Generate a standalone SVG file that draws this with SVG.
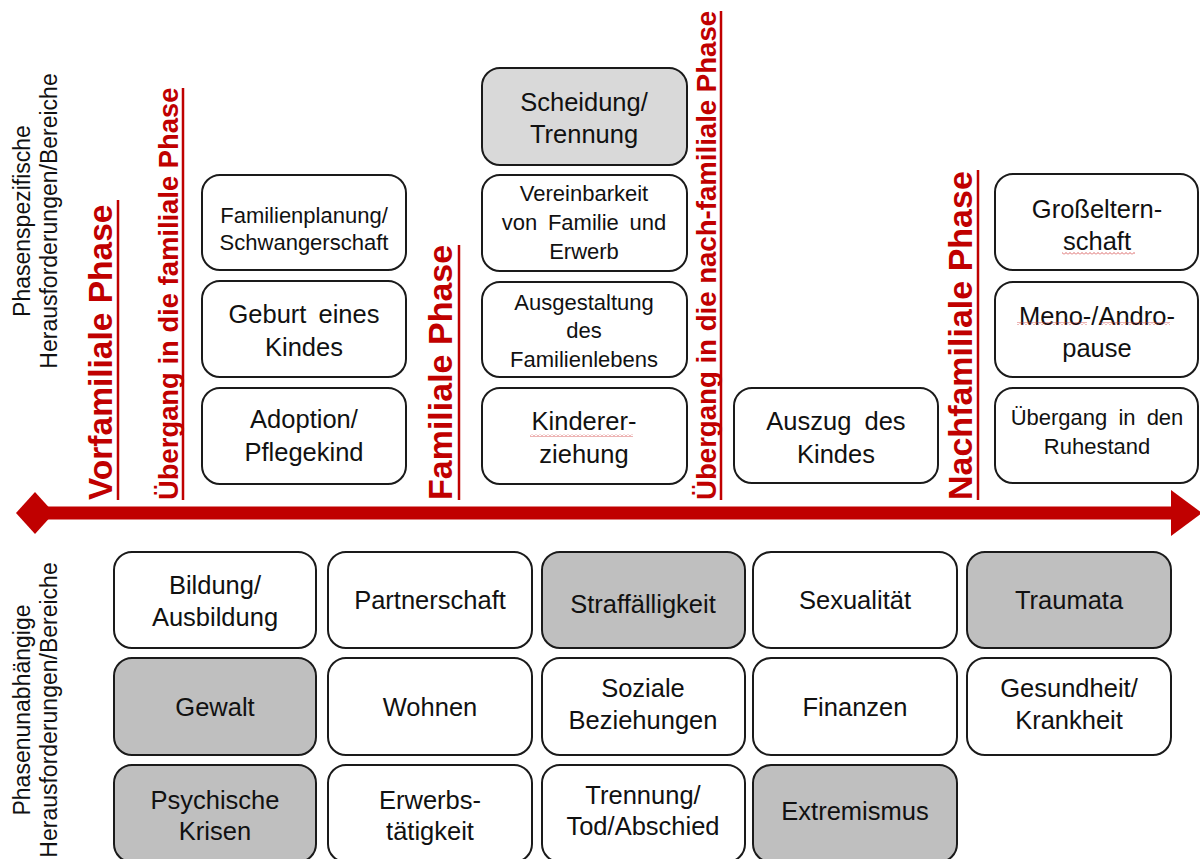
<svg xmlns="http://www.w3.org/2000/svg" width="1200" height="859" viewBox="0 0 1200 859">
<style>
  .box { fill: #ffffff; stroke: #1a1a1a; stroke-width: 2; }
  .grey { fill: #bfbfbf; }
  .lgrey { fill: #d9d9d9; }
  .t { font-family: "Liberation Sans", Arial, sans-serif; fill: #111111; text-anchor: middle; }
  .big { font-size: 25.5px; }
  .small { font-size: 22px; }
  .side { font-family: "Liberation Sans", Arial, sans-serif; fill: #111111; font-size: 23px; text-anchor: middle; }
  .phase { font-family: "Liberation Sans", Arial, sans-serif; fill: #c00000; font-weight: bold; }
  .ul { stroke: #c00000; stroke-width: 2.5; }
  .axis { stroke: #c00000; stroke-width: 13; fill: none; }
</style>
<defs>
  <marker id="arrowhead" markerUnits="userSpaceOnUse" markerWidth="31" markerHeight="46" refX="0" refY="23" orient="auto">
    <path d="M0,0 L31,23 L0,46 Z" fill="#c00000"/>
  </marker>
  <marker id="diamond" markerUnits="userSpaceOnUse" markerWidth="38" markerHeight="42" refX="19" refY="21" orient="auto">
    <path d="M0,21 L19,0 L38,21 L19,42 Z" fill="#c00000"/>
  </marker>
  <pattern id="squig" patternUnits="userSpaceOnUse" width="4" height="3">
    <path d="M0,2.5 L2,0.5 L4,2.5" fill="none" stroke="#d04040" stroke-width="0.8"/>
  </pattern>
</defs>
<rect width="1200" height="859" fill="#ffffff"/>

<!-- side labels -->
<g id="label-phasenspezifisch">
  <text class="side" transform="translate(30,221) rotate(-90)">Phasenspezifische</text>
  <text class="side" transform="translate(57,221) rotate(-90)">Herausforderungen/Bereiche</text>
</g>
<g id="label-phasenunabhaengig">
  <text class="side" transform="translate(30,710) rotate(-90)">Phasenunabhängige</text>
  <text class="side" transform="translate(57,710) rotate(-90)">Herausforderungen/Bereiche</text>
</g>

<!-- connectors: timeline axis -->
<g id="connectors">
  <line class="axis" x1="35" y1="513" x2="1171" y2="513" marker-start="url(#diamond)" marker-end="url(#arrowhead)"/>
</g>

<!-- phase labels -->
<g id="phase-vorfamiliale">
  <text class="phase" font-size="33.5" transform="translate(112,500) rotate(-90)">Vorfamiliale Phase</text>
  <line class="ul" x1="118" y1="500" x2="118" y2="200"/>
</g>
<g id="phase-uebergang-familiale">
  <text class="phase" font-size="27.4" transform="translate(178,500) rotate(-90)">Übergang in die familiale Phase</text>
  <line class="ul" x1="183" y1="500" x2="183" y2="88"/>
</g>
<g id="phase-familiale">
  <text class="phase" font-size="34" transform="translate(452,500) rotate(-90)">Familiale Phase</text>
  <line class="ul" x1="459" y1="500" x2="459" y2="245"/>
</g>
<g id="phase-uebergang-nachfamiliale">
  <text class="phase" font-size="27.6" transform="translate(716,500) rotate(-90)">Übergang in die nach-familiale Phase</text>
  <line class="ul" x1="721" y1="500" x2="721" y2="11"/>
</g>
<g id="phase-nachfamiliale">
  <text class="phase" font-size="34" transform="translate(972,500) rotate(-90)">Nachfamiliale Phase</text>
  <line class="ul" x1="978" y1="500" x2="978" y2="170"/>
</g>

<!-- top: phase specific boxes -->
<g id="familienplanung">
  <rect class="box" x="202" y="175" width="204" height="95" rx="18"/>
  <text class="t small" x="304" y="223">Familienplanung/</text>
  <text class="t small" x="304" y="250">Schwangerschaft</text>
</g>
<g id="geburt">
  <rect class="box" x="202" y="281" width="204" height="96" rx="18"/>
  <text class="t big" x="304" y="323" word-spacing="5">Geburt eines</text>
  <text class="t big" x="304" y="356">Kindes</text>
</g>
<g id="adoption">
  <rect class="box" x="202" y="388" width="204" height="96" rx="18"/>
  <text class="t big" x="304" y="428">Adoption/</text>
  <text class="t big" x="304" y="461">Pflegekind</text>
</g>

<g id="scheidung">
  <rect class="box lgrey" x="482" y="68" width="205" height="97" rx="18"/>
  <text class="t big" x="584" y="111">Scheidung/</text>
  <text class="t big" x="584" y="143">Trennung</text>
</g>
<g id="vereinbarkeit">
  <rect class="box" x="482" y="175" width="205" height="96" rx="18"/>
  <text class="t small" x="584" y="201">Vereinbarkeit</text>
  <text class="t small" x="584" y="230" word-spacing="4.5">von Familie und</text>
  <text class="t small" x="584" y="259">Erwerb</text>
</g>
<g id="ausgestaltung">
  <rect class="box" x="482" y="282" width="205" height="95" rx="18"/>
  <text class="t small" x="584" y="310">Ausgestaltung</text>
  <text class="t small" x="584" y="338">des</text>
  <text class="t small" x="584" y="367">Familienlebens</text>
</g>
<g id="kindererziehung">
  <rect class="box" x="482" y="388" width="205" height="96" rx="18"/>
  <text class="t big" x="584" y="430">Kinderer-</text>
  <text class="t big" x="584" y="463">ziehung</text>
  <rect x="530" y="434" width="103" height="3" fill="url(#squig)"/>
</g>

<g id="auszug">
  <rect class="box" x="734" y="388" width="204" height="95" rx="18"/>
  <text class="t big" x="836" y="430" word-spacing="6">Auszug des</text>
  <text class="t big" x="836" y="463">Kindes</text>
</g>

<g id="grosselternschaft">
  <rect class="box" x="995" y="174" width="203" height="96" rx="18"/>
  <text class="t big" x="1097" y="218">Großeltern-</text>
  <text class="t big" x="1097" y="250">schaft</text>
  <rect x="1062" y="252" width="73" height="3" fill="url(#squig)"/>
</g>
<g id="menopause">
  <rect class="box" x="995" y="282" width="203" height="95" rx="18"/>
  <text class="t big" x="1097" y="325">Meno-/Andro-</text>
  <text class="t big" x="1097" y="357">pause</text>
  <rect x="1017" y="322" width="70" height="3" fill="url(#squig)"/>
  <rect x="1100" y="322" width="70" height="3" fill="url(#squig)"/>
</g>
<g id="ruhestand">
  <rect class="box" x="995" y="388" width="203" height="95" rx="18"/>
  <text class="t small" x="1097" y="425" word-spacing="5">Übergang in den</text>
  <text class="t small" x="1097" y="454">Ruhestand</text>
</g>

<!-- bottom: phase independent boxes -->
<g id="bildung">
  <rect class="box" x="114" y="552" width="202" height="96" rx="18"/>
  <text class="t big" x="215" y="594">Bildung/</text>
  <text class="t big" x="215" y="626">Ausbildung</text>
</g>
<g id="partnerschaft">
  <rect class="box" x="328" y="552" width="204" height="96" rx="18"/>
  <text class="t big" x="430" y="609">Partnerschaft</text>
</g>
<g id="straffaelligkeit">
  <rect class="box grey" x="542" y="552" width="203" height="96" rx="18"/>
  <text class="t big" x="643" y="613">Straffälligkeit</text>
</g>
<g id="sexualitaet">
  <rect class="box" x="753" y="552" width="204" height="96" rx="18"/>
  <text class="t big" x="855" y="609">Sexualität</text>
</g>
<g id="traumata">
  <rect class="box grey" x="967" y="552" width="204" height="96" rx="18"/>
  <text class="t big" x="1069" y="609">Traumata</text>
</g>

<g id="gewalt">
  <rect class="box grey" x="114" y="658" width="202" height="97" rx="18"/>
  <text class="t big" x="215" y="716">Gewalt</text>
</g>
<g id="wohnen">
  <rect class="box" x="328" y="658" width="204" height="97" rx="18"/>
  <text class="t big" x="430" y="716">Wohnen</text>
</g>
<g id="soziale-beziehungen">
  <rect class="box" x="542" y="658" width="203" height="97" rx="18"/>
  <text class="t big" x="643" y="697">Soziale</text>
  <text class="t big" x="643" y="729">Beziehungen</text>
</g>
<g id="finanzen">
  <rect class="box" x="753" y="658" width="204" height="97" rx="18"/>
  <text class="t big" x="855" y="716">Finanzen</text>
</g>
<g id="gesundheit">
  <rect class="box" x="967" y="658" width="204" height="97" rx="18"/>
  <text class="t big" x="1069" y="697">Gesundheit/</text>
  <text class="t big" x="1069" y="729">Krankheit</text>
</g>

<g id="psychische-krisen">
  <rect class="box grey" x="114" y="765" width="202" height="97" rx="18"/>
  <text class="t big" x="215" y="809">Psychische</text>
  <text class="t big" x="215" y="840">Krisen</text>
</g>
<g id="erwerbstaetigkeit">
  <rect class="box" x="328" y="765" width="204" height="97" rx="18"/>
  <text class="t big" x="430" y="809">Erwerbs-</text>
  <text class="t big" x="430" y="840">tätigkeit</text>
</g>
<g id="trennung-tod">
  <rect class="box" x="542" y="765" width="203" height="97" rx="18"/>
  <text class="t big" x="643" y="804">Trennung/</text>
  <text class="t big" x="643" y="835">Tod/Abschied</text>
</g>
<g id="extremismus">
  <rect class="box grey" x="753" y="765" width="204" height="97" rx="18"/>
  <text class="t big" x="855" y="820">Extremismus</text>
</g>
</svg>
